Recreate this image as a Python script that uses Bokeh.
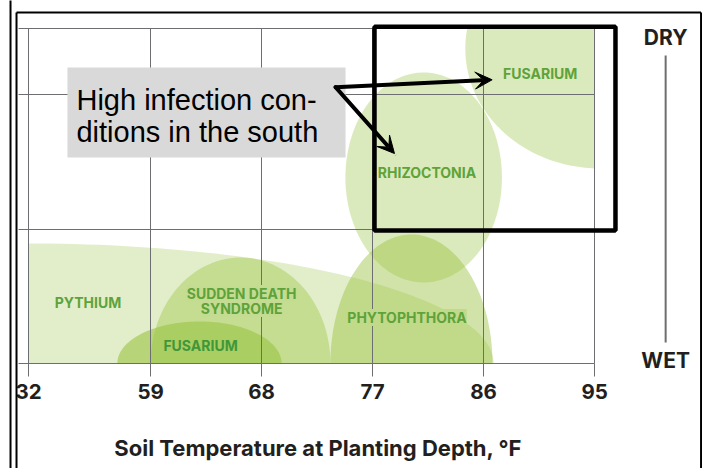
import numpy as np
from bokeh.plotting import figure
from bokeh.models import (FixedTicker, Grid, ColumnDataSource, LabelSet, Label, LinearAxis,
                          BoxAnnotation, Arrow, VeeHead, Range1d)
from bokeh.core.properties import value
from bokeh.embed import file_html
from bokeh.resources import INLINE

# ---- data -------------------------------------------------------------
# soil temperature ticks (°F) and their slot on the chart's stretched scale
temp_labels = ["32", "59", "68", "77", "86", "95"]
temp_pos = [0, 11, 21, 31, 41, 51]
# moisture grid lines (0 = wet ... top = dry)
moist_grid = [1, 2, 2.49]

# disease zones drawn as ellipses (centre, full width, full height)
zone_names = ["PYTHIUM", "RHIZOCTONIA", "FUSARIUM", "SUDDEN DEATH SYNDROME", "PHYTOPHTHORA", "FUSARIUM"]
zone_x = [0.0, 35.6, 51.5, 19.1, 34.5, 15.4]
zone_y = [0.0, 1.384, 2.344, 0.0, 0.0, 0.0]
zone_w = [83.8, 14.1, 24.3, 16.2, 14.6, 14.8]
zone_h = [1.786, 1.5625, 1.786, 1.577, 1.92, 0.625]
zone_alpha = [0.28, 0.35, 0.35, 0.40, 0.45, 0.58]
zone_xmin = [0.0, None, None, None, None, None]

# zone labels
lab_text = ["FUSARIUM", "RHIZOCTONIA", "PYTHIUM", "SUDDEN DEATH", "SYNDROME", "PHYTOPHTHORA", "FUSARIUM"]
lab_x = [46.1, 35.9, 5.36, 19.2, 19.2, 34.1, 15.5]
lab_y = [2.158, 1.421, 0.454, 0.521, 0.409, 0.342, 0.134]
lab_color = ["#5ea33a"] * 6 + ["#3f973a"]
# which zones lie under each label (used to knock the grid lines out behind the text)
lab_under = [None, None, None, (0, 3), (0, 3), (0, 4), None]

GREEN = (152, 194, 62)
GREEN_HEX = "#%02x%02x%02x" % GREEN
GRID = "#6d6e71"
DARK = "#231f20"

# plotting area of the chart (in data units)
AX0, AX1, AY0, AY1 = -0.9, 51.0, 0.0, 2.49

p = figure(width=702, height=468, x_range=Range1d(-2.5225, 60.72), y_range=Range1d(-0.78125, 2.7009),
           output_backend="svg", toolbar_location=None, x_axis_location=None, y_axis_location=None,
           min_border=0)
p.outline_line_color = None
p.background_fill_color = "white"
p.border_fill_color = "white"
p.center = [r for r in p.center if not isinstance(r, Grid)]

# zones (clipped to the plotting area)
def zone_outline(cx, cy, w, h, xmin):
    t = np.linspace(0, 2 * np.pi, 240)
    x = cx + w / 2 * np.cos(t)
    y = cy + h / 2 * np.sin(t)
    lo = AX0 if xmin is None else xmin
    return list(np.clip(x, lo, AX1)), list(np.clip(y, AY0, AY1))

xs, ys = [], []
for cx, cy, w, h, xm in zip(zone_x, zone_y, zone_w, zone_h, zone_xmin):
    a, b = zone_outline(cx, cy, w, h, xm)
    xs.append(a)
    ys.append(b)
zsrc = ColumnDataSource(dict(xs=xs, ys=ys, a=zone_alpha, n=zone_names))
p.patches("xs", "ys", source=zsrc, fill_color=GREEN_HEX, fill_alpha="a", line_color=None)

# grid
gkw_x, gkw_y = {}, {}
if "cross_bounds" in Grid.properties():
    gkw_x = dict(cross_bounds=(AY0, AY1))
    gkw_y = dict(cross_bounds=(AX0, AX1))
p.add_layout(Grid(dimension=0, ticker=FixedTicker(ticks=temp_pos), grid_line_color=GRID,
                  level="guide", **gkw_x))
p.add_layout(Grid(dimension=1, ticker=FixedTicker(ticks=moist_grid), grid_line_color=GRID,
                  level="guide", **gkw_y))

# axis
ax = LinearAxis(fixed_location=0, bounds=(AX0, AX1), ticker=FixedTicker(ticks=temp_pos))
ax.major_label_overrides = {pos: lab for pos, lab in zip(temp_pos, temp_labels)}
ax.axis_line_color = GRID
ax.axis_line_width = 1
ax.major_tick_in = 0
ax.major_tick_out = 13
ax.major_tick_line_color = GRID
ax.minor_tick_line_color = None
ax.major_label_text_font = "Inter"
ax.major_label_text_font_style = "bold"
ax.major_label_text_font_size = "20.5px"
ax.major_label_text_color = DARK
ax.major_label_standoff = 7
p.add_layout(ax, "below")

# zone labels, with the blended zone colour behind them (grid knock-out)
def blend(idx):
    keep = 1.0
    for i in idx:
        keep *= 1 - zone_alpha[i]
    A = 1 - keep
    return "#%02x%02x%02x" % tuple(int(round(255 * (1 - A) + c * A)) for c in GREEN)

bg = [blend(u) if u else "white" for u in lab_under]
bga = [1.0 if u else 0.0 for u in lab_under]
lsrc = ColumnDataSource(dict(x=lab_x, y=lab_y, t=lab_text, c=lab_color, bg=bg, bga=bga))
p.add_layout(LabelSet(x="x", y="y", text="t", source=lsrc, text_color="c",
                      text_font=value("Inter"), text_font_style="bold",
                      background_fill_color="bg", background_fill_alpha="bga",
                      text_font_size="14px", text_align="center", text_baseline="middle"))

# callout box
p.add_layout(BoxAnnotation(left=3.51, right=28.56, bottom=1.533, top=2.202,
                           fill_color="#d9d9d9", fill_alpha=1, line_color=None))
for txt, yy in [("High infection con-", 1.957), ("ditions in the south", 1.721)]:
    p.add_layout(Label(x=4.32, y=yy, text=txt, text_font="Liberation Sans",
                       text_font_size="29px", text_color="black", text_baseline="alphabetic"))

# highlight frame
p.add_layout(BoxAnnotation(left=31.17, right=52.88, bottom=0.99, top=2.505,
                           fill_color=None, fill_alpha=0, line_color="black", line_width=4.5,
                           line_alpha=1))

# arrows
asrc = ColumnDataSource(dict(x0=[27.66, 27.66], y0=[2.056, 2.056], x1=[41.77, 32.97], y1=[2.111, 1.5625]))
p.add_layout(Arrow(source=asrc, x_start="x0", y_start="y0", x_end="x1", y_end="y1",
                   line_width=4, line_color="black", line_cap="round",
                   end=VeeHead(size=17, fill_color="black", line_color="black")))

# dry / wet scale
p.add_layout(Arrow(x_start=57.4, y_start=2.292, x_end=57.4, y_end=0.156, end=None,
                   line_color=GRID, line_width=2))
for txt, yy in [("DRY", 2.426), ("WET", 0.022)]:
    p.add_layout(Label(x=57.4, y=yy, text=txt, text_font="Inter", text_font_style="bold",
                       text_font_size="21px", text_color=DARK, text_align="center",
                       text_baseline="middle"))

# axis title
p.add_layout(Label(x=26.1, y=-0.625, text="Soil Temperature at Planting Depth, °F",
                   text_font="Inter", text_font_style="bold", text_font_size="22px",
                   text_color=DARK, text_align="center", text_baseline="middle"))

# page frame lines
bsrc = ColumnDataSource(dict(x0=[-1.62, -1.08, -1.08, 60.59], y0=[2.75, 2.612, 2.612, 2.612],
                             x1=[-1.62, -1.08, 60.59, 60.59], y1=[-0.9, -0.9, 2.612, -0.9]))
p.add_layout(Arrow(source=bsrc, x_start="x0", y_start="y0", x_end="x1", y_end="y1",
                   end=None, line_color="black", line_width=2))

open("out.html", "w").write(file_html(p, INLINE))
